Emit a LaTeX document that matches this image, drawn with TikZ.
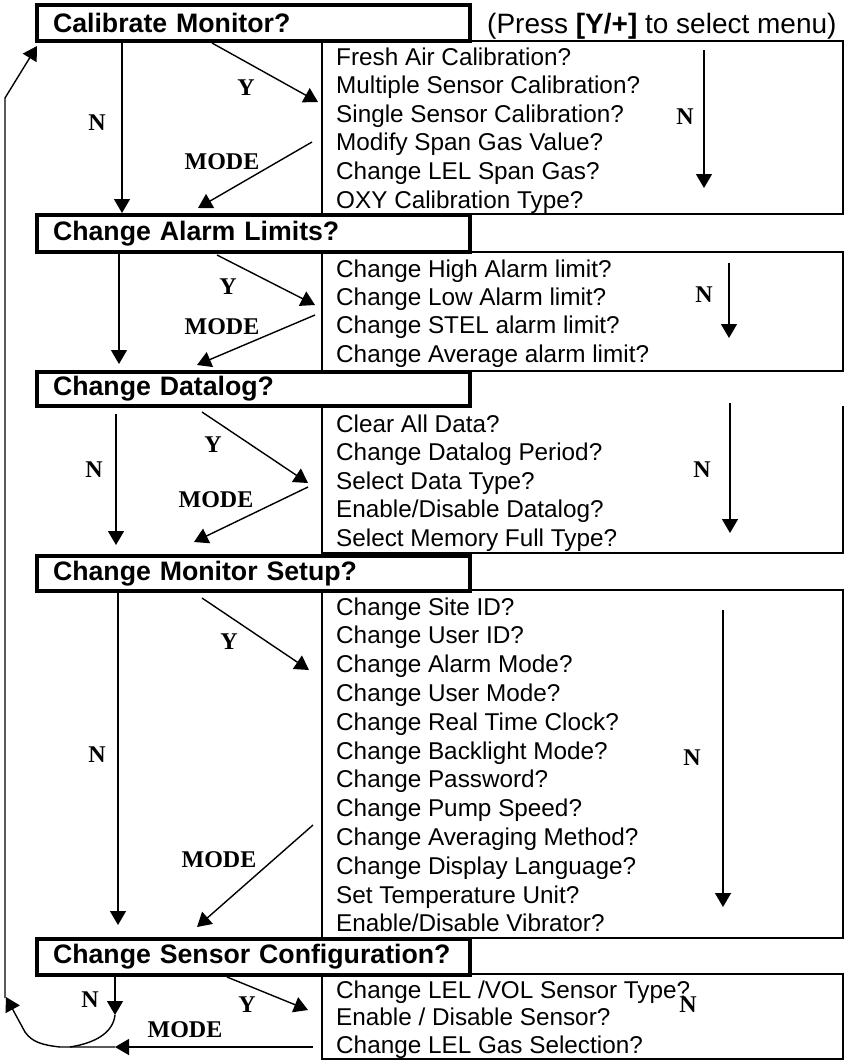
\documentclass[tikz,border=0pt]{standalone}
\usepackage{fontspec}
\setmainfont{Liberation Sans}
\newfontfamily\lblfont{Liberation Serif}
\usetikzlibrary{arrows.meta}
\begin{document}
\begin{tikzpicture}[x=1pt,y=-1pt,
  hdr/.style={draw, line width=3.5pt, outer sep=0pt, anchor=north west, minimum width=433pt,
    inner xsep=16pt, inner ysep=0pt, text width=401pt, align=left,
    font=\fontsize{26.7}{30}\selectfont\bfseries},
  item/.style={anchor=base west, inner sep=0pt, font=\fontsize{24.3}{28}\selectfont},
  lbl/.style={inner sep=0pt, font=\lblfont\fontsize{24}{28}\selectfont\bfseries},
  arr/.style={line width=1.4pt, -{Triangle[length=14pt,width=16pt]}},
  plain/.style={line width=1.4pt},
  subbox/.style={line width=2pt}]
\useasboundingbox (0,0) rectangle (845,1061);

% sub boxes
\draw[subbox] (322,41) rectangle (843,214);
\draw[subbox] (322,252) rectangle (843,371);
\draw[subbox] (322,406) -- (322,553) -- (843,553) -- (843,406);
\draw[subbox] (322,590) rectangle (843,938);
\draw[subbox] (322,974) rectangle (843,1059);

% headers
\node[hdr, minimum height=36pt] (h1) at (37,5) {Calibrate Monitor?};
\node[hdr, minimum height=37pt] (h2) at (37,215) {Change Alarm Limits?};
\node[hdr, minimum height=34pt] (h3) at (37,372) {Change Datalog?};
\node[hdr, minimum height=35pt] (h4) at (37,556) {Change Monitor Setup?};
\node[hdr, minimum height=36pt] (h5) at (37,939) {Change Sensor Configuration?};

\node[anchor=base west, inner sep=0pt, font=\fontsize{28}{30}\selectfont] (press) at (487,33)
  {(Press \textbf{[Y/+]} to select menu)};

% items section 1
\node[item] (i11) at (336,65) {Fresh Air Calibration?};
\node[item] (i12) at (336,93.6) {Multiple Sensor Calibration?};
\node[item] (i13) at (336,122.2) {Single Sensor Calibration?};
\node[item] (i14) at (336,150.8) {Modify Span Gas Value?};
\node[item] (i15) at (336,179.4) {Change LEL Span Gas?};
\node[item] (i16) at (336,208) {OXY Calibration Type?};
% section 2
\node[item] (i21) at (336,277) {Change High Alarm limit?};
\node[item] (i22) at (336,305.4) {Change Low Alarm limit?};
\node[item] (i23) at (336,333.8) {Change STEL alarm limit?};
\node[item] (i24) at (336,362.2) {Change Average alarm limit?};
% section 3
\node[item] (i31) at (336,432) {Clear All Data?};
\node[item] (i32) at (336,460.6) {Change Datalog Period?};
\node[item] (i33) at (336,489.2) {Select Data Type?};
\node[item] (i34) at (336,517.8) {Enable/Disable Datalog?};
\node[item] (i35) at (336,546.4) {Select Memory Full Type?};
% section 4
\node[item] (i41) at (336,615) {Change Site ID?};
\node[item] (i42) at (336,643.8) {Change User ID?};
\node[item] (i43) at (336,672.6) {Change Alarm Mode?};
\node[item] (i44) at (336,701.4) {Change User Mode?};
\node[item] (i45) at (336,730.2) {Change Real Time Clock?};
\node[item] (i46) at (336,759) {Change Backlight Mode?};
\node[item] (i47) at (336,787.8) {Change Password?};
\node[item] (i48) at (336,816.6) {Change Pump Speed?};
\node[item] (i49) at (336,845.4) {Change Averaging Method?};
\node[item] (i4a) at (336,874.2) {Change Display Language?};
\node[item] (i4b) at (336,903) {Set Temperature Unit?};
\node[item] (i4c) at (336,931) {Enable/Disable Vibrator?};
% section 5
\node[item] (i51) at (336,998) {Change LEL /VOL Sensor Type?};
\node[item] (i52) at (336,1025.5) {Enable / Disable Sensor?};
\node[item] (i53) at (336,1053) {Change LEL Gas Selection?};

% coordinates
\coordinate (n1a) at (122,41);   \coordinate (n1b) at (122,213);
\coordinate (y1a) at (212,43);   \coordinate (y1b) at (318,102);
\coordinate (m1a) at (312,142);  \coordinate (m1b) at (198,208);
\coordinate (s1a) at (704,50);   \coordinate (s1b) at (704,188);

\coordinate (n2a) at (119,252);  \coordinate (n2b) at (119,364);
\coordinate (y2a) at (217,255);  \coordinate (y2b) at (315,305);
\coordinate (m2a) at (315,315);  \coordinate (m2b) at (197,365);
\coordinate (s2a) at (729,263);  \coordinate (s2b) at (729,338);

\coordinate (n3a) at (116,414);  \coordinate (n3b) at (116,545);
\coordinate (y3a) at (202,412);  \coordinate (y3b) at (308,483);
\coordinate (m3a) at (308,487);  \coordinate (m3b) at (194,542);
\coordinate (s3a) at (730,403);  \coordinate (s3b) at (730,533);

\coordinate (n4a) at (118,591);  \coordinate (n4b) at (118,925);
\coordinate (y4a) at (202,598);  \coordinate (y4b) at (309,670);
\coordinate (m4a) at (313,825);  \coordinate (m4b) at (197,927);
\coordinate (s4a) at (723,610);  \coordinate (s4b) at (723,907);

\coordinate (n5a) at (115,975);  \coordinate (n5b) at (115,1015);
\coordinate (n5c) at (70,1047);
\coordinate (y5a) at (227,977);  \coordinate (y5b) at (308,1010);
\coordinate (m5a) at (313,1047); \coordinate (m5b) at (115,1047);
\coordinate (m5c) at (60,1047);  \coordinate (m5d) at (25,1032);
\coordinate (lpB) at (6,997);
\coordinate (lp0) at (5,998);    \coordinate (lp1) at (5,98);
\coordinate (lpT) at (37,46);

% arrows
\draw[arr] (n1a) -- (n1b);
\draw[arr] (y1a) -- (y1b);
\draw[arr] (m1a) -- (m1b);
\draw[arr] (s1a) -- (s1b);
\draw[arr] (n2a) -- (n2b);
\draw[arr] (y2a) -- (y2b);
\draw[arr] (m2a) -- (m2b);
\draw[arr] (s2a) -- (s2b);
\draw[arr] (n3a) -- (n3b);
\draw[arr] (y3a) -- (y3b);
\draw[arr] (m3a) -- (m3b);
\draw[arr] (s3a) -- (s3b);
\draw[arr] (n4a) -- (n4b);
\draw[arr] (y4a) -- (y4b);
\draw[arr] (m4a) -- (m4b);
\draw[arr] (s4a) -- (s4b);
\draw[arr] (n5a) -- (n5b);
\draw[plain] (n5b) .. controls (113,1033) and (95,1043) .. (n5c);
\draw[arr] (y5a) -- (y5b);
\draw[arr] (m5a) -- (m5b);
\draw[arr] (m5b) -- (m5c) .. controls (42,1045) and (32,1042) .. (m5d) -- (lpB);
\draw[arr] (lp0) -- (lp1) -- (lpT);

% labels
\node[lbl] (ln1) at (97,123) {N};
\node[lbl] (ly1) at (246,88) {Y};
\node[lbl] (lm1) at (222,162) {MODE};
\node[lbl] (ls1) at (685,117) {N};
\node[lbl] (ly2) at (228,287) {Y};
\node[lbl] (lm2) at (222,327) {MODE};
\node[lbl] (ls2) at (704,295) {N};
\node[lbl] (ln3) at (94,470) {N};
\node[lbl] (ly3) at (213,445) {Y};
\node[lbl] (lm3) at (216,500) {MODE};
\node[lbl] (ls3) at (702,470) {N};
\node[lbl] (ln4) at (97,755) {N};
\node[lbl] (ly4) at (229,642) {Y};
\node[lbl] (lm4) at (219,860) {MODE};
\node[lbl] (ls4) at (692,758) {N};
\node[lbl] (ln5) at (90,1000) {N};
\node[lbl] (ly5) at (247,1005) {Y};
\node[lbl] (lm5) at (185,1030) {MODE};
\node[lbl] (ls5) at (688,1005) {N};
\end{tikzpicture}
\end{document}
